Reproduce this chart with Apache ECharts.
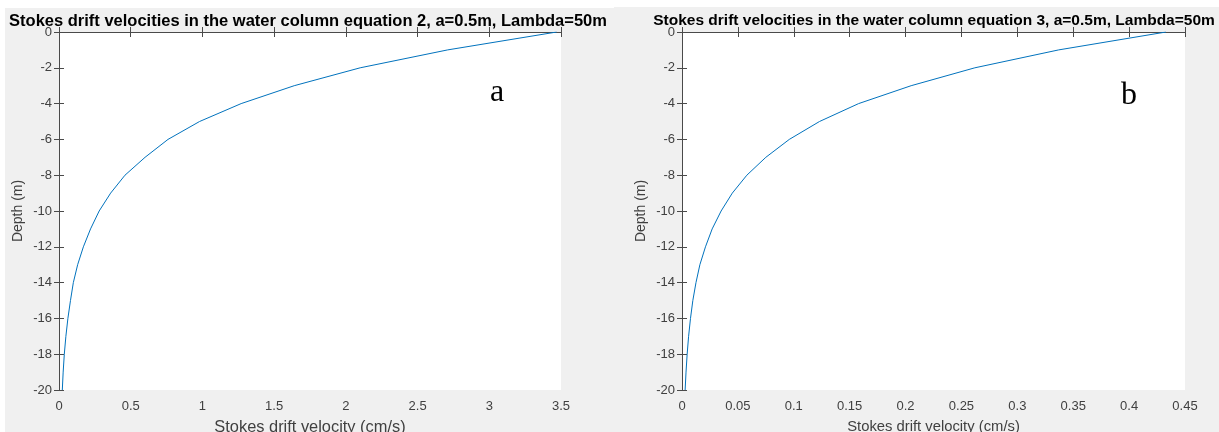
<!DOCTYPE html>
<html>
<head>
<meta charset="utf-8">
<script src="https://cdn.jsdelivr.net/npm/echarts@6/dist/echarts.min.js"></script>
<style>
  html, body { margin: 0; padding: 0; background: #ffffff; }
  #chart { width: 1219px; height: 432px; }
</style>
</head>
<body>
<div id="chart"></div>
<script>
// depths (m), same for both panels
var depths = [0, -1, -2, -3, -4, -5, -6, -7, -8, -9, -10, -11, -12, -13, -14, -15, -16, -17, -18, -19, -20];
// panel a: equation 2 (cm/s)
var velEq2 = [3.47, 2.71, 2.10, 1.64, 1.27, 0.98, 0.76, 0.60, 0.46, 0.36, 0.28, 0.22, 0.17, 0.13, 0.10, 0.08, 0.062, 0.048, 0.037, 0.029, 0.023];
// panel b: equation 3 (cm/s)
var velEq3 = [0.433, 0.337, 0.262, 0.205, 0.158, 0.123, 0.096, 0.075, 0.058, 0.045, 0.035, 0.027, 0.021, 0.016, 0.0125, 0.0097, 0.0076, 0.0059, 0.0046, 0.0036, 0.0028];

var titles = [
  'Stokes drift velocities in the water column equation 2, a=0.5m, Lambda=50m',
  'Stokes drift velocities in the water column equation 3, a=0.5m, Lambda=50m'
];
var xTitle = 'Stokes drift velocity (cm/s)';
var yTitle = 'Depth (m)';
var panelLetters = ['a', 'b'];

var axisCol = '#4a4a4a';
var txtCol = '#404040';
var font = 'Liberation Sans, Arial, sans-serif';

function pairs(xs) {
  return xs.map(function (v, i) { return [v, depths[i]]; });
}

function bottomAxis(idx, max, step, nameSize) {
  return {
    type: 'value', gridIndex: idx, position: 'bottom', min: 0, max: max, interval: step,
    name: xTitle, nameLocation: 'middle', nameGap: 29,
    nameTextStyle: { color: txtCol, fontSize: nameSize, fontFamily: font },
    axisLine: { lineStyle: { color: axisCol, width: 1 } },
    axisTick: { inside: true, length: 5, lineStyle: { color: axisCol } },
    axisLabel: { color: txtCol, fontSize: 13, fontFamily: font, margin: 10 },
    splitLine: { show: false }
  };
}
function topAxis(idx, max, step) {
  return {
    type: 'value', gridIndex: idx, position: 'top', min: 0, max: max, interval: step,
    axisLine: { lineStyle: { color: axisCol, width: 1 } },
    axisTick: { inside: true, length: 5, lineStyle: { color: axisCol } },
    axisLabel: { show: false }, splitLine: { show: false }
  };
}
function leftAxis(idx) {
  return {
    type: 'value', gridIndex: idx, position: 'left', min: -20, max: 0, interval: 2,
    name: yTitle, nameLocation: 'middle', nameGap: 34, nameRotate: 90,
    nameTextStyle: { color: txtCol, fontSize: 14, fontFamily: font },
    axisLine: { lineStyle: { color: axisCol, width: 1 } },
    axisTick: { inside: true, length: 5, lineStyle: { color: axisCol } },
    axisLabel: { color: txtCol, fontSize: 13, fontFamily: font, margin: 7 },
    splitLine: { show: false }
  };
}
function rightAxis(idx) {
  return {
    type: 'value', gridIndex: idx, position: 'right', min: -20, max: 0, interval: 2,
    axisLine: { lineStyle: { color: axisCol, width: 1 } },
    axisTick: { inside: true, length: 5, lineStyle: { color: axisCol } },
    axisLabel: { show: false }, splitLine: { show: false }
  };
}

var chart = echarts.init(document.getElementById('chart'));
chart.setOption({
  backgroundColor: '#ffffff',
  animation: false,
  graphic: [
    { type: 'rect', z: -10, shape: { x: 5, y: 8, width: 609, height: 424 }, style: { fill: '#f0f0f0' } },
    { type: 'rect', z: -10, shape: { x: 614, y: 7, width: 605, height: 425 }, style: { fill: '#f0f0f0' } },
    { type: 'text', left: 490, top: 77, z: 10, style: { text: panelLetters[0], font: '32px "Liberation Serif", "Times New Roman", serif', fill: '#000' } },
    { type: 'text', left: 1121, top: 80, z: 10, style: { text: panelLetters[1], font: '32px "Liberation Serif", "Times New Roman", serif', fill: '#000' } }
  ],
  title: [
    { text: titles[0], left: 303, top: 8, textAlign: 'center',
      textStyle: { fontSize: 16.5, fontWeight: 'bold', color: '#000', fontFamily: font } },
    { text: titles[1], left: 929, top: 8, textAlign: 'center',
      textStyle: { fontSize: 15.5, fontWeight: 'bold', color: '#000', fontFamily: font } }
  ],
  grid: [
    { left: 59, top: 32, width: 502, height: 358, outerBoundsMode: 'none', containLabel: false,
      show: true, backgroundColor: '#ffffff', borderWidth: 0 },
    { left: 682, top: 32, width: 503, height: 358, outerBoundsMode: 'none', containLabel: false,
      show: true, backgroundColor: '#ffffff', borderWidth: 0 }
  ],
  xAxis: [bottomAxis(0, 3.5, 0.5, 16.4), topAxis(0, 3.5, 0.5), bottomAxis(1, 0.45, 0.05, 14.8), topAxis(1, 0.45, 0.05)],
  yAxis: [leftAxis(0), rightAxis(0), leftAxis(1), rightAxis(1)],
  series: [
    { type: 'line', xAxisIndex: 0, yAxisIndex: 0, data: pairs(velEq2), showSymbol: false,
      lineStyle: { color: '#0072BD', width: 1 }, smooth: false },
    { type: 'line', xAxisIndex: 2, yAxisIndex: 2, data: pairs(velEq3), showSymbol: false,
      lineStyle: { color: '#0072BD', width: 1 }, smooth: false }
  ]
});
</script>
</body>
</html>
